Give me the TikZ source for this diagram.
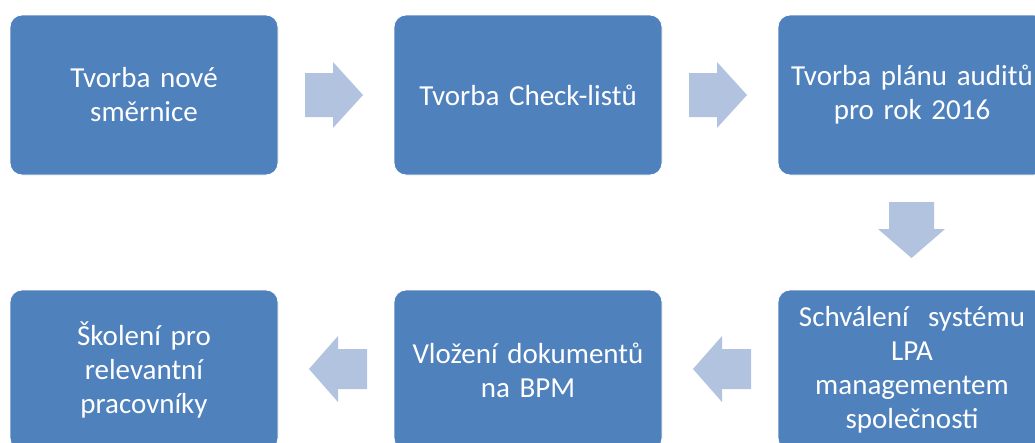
\documentclass[tikz,border=0pt]{standalone}
\usepackage{fontspec}
\setmainfont{Carlito}
\definecolor{stepblue}{HTML}{4F81BD}
\definecolor{arrowblue}{HTML}{B1C3DE}
\tikzset{
  stepbox/.style={fill=stepblue, draw=white, line width=0.8pt,
    rounded corners=12pt, minimum width=268pt, minimum height=160pt,
    text=white, align=center, text width=262pt,
    font=\fontsize{29}{34}\selectfont, inner sep=0pt},
  flowarrow/.style={fill=arrowblue, draw=none}
}
\begin{document}
\begin{tikzpicture}[x=1pt, y=-1pt]
  \useasboundingbox (0,0) rectangle (1035,442);
  \clip (0,0) rectangle (1035,442);
  % top row
  \node[stepbox] (s1) at (144,95) {Tvorba nové\\směrnice};
  \node[stepbox] (s2) at (528,95) {Tvorba Check-listů};
  \node[stepbox] (s3) at (912,95) {Tvorba plánu auditů\\pro rok 2016};
  % bottom row
  \node[stepbox] (s4) at (912,370) {Schválení\ \ systému\\LPA\\managementem\\společnosti};
  \node[stepbox] (s5) at (528,370) {Vložení dokumentů\\na BPM};
  \node[stepbox] (s6) at (144,370) {Školení pro\\relevantní\\pracovníky};
  % block arrows between the steps
  \fill[flowarrow] (305,73) -- (333,73) -- (333,62) -- (363,95) -- (333,128) -- (333,117) -- (305,117) -- cycle;
  \fill[flowarrow] (689,73) -- (717,73) -- (717,62) -- (747,95) -- (717,128) -- (717,117) -- (689,117) -- cycle;
  \fill[flowarrow] (889,202) -- (934,202) -- (934,229) -- (945,229) -- (911.5,258) -- (878,229) -- (889,229) -- cycle;
  \fill[flowarrow] (751,349) -- (722,349) -- (722,336) -- (693,369) -- (722,402) -- (722,389) -- (751,389) -- cycle;
  \fill[flowarrow] (367,349) -- (338,349) -- (338,336) -- (309,369) -- (338,402) -- (338,389) -- (367,389) -- cycle;
\end{tikzpicture}
\end{document}
